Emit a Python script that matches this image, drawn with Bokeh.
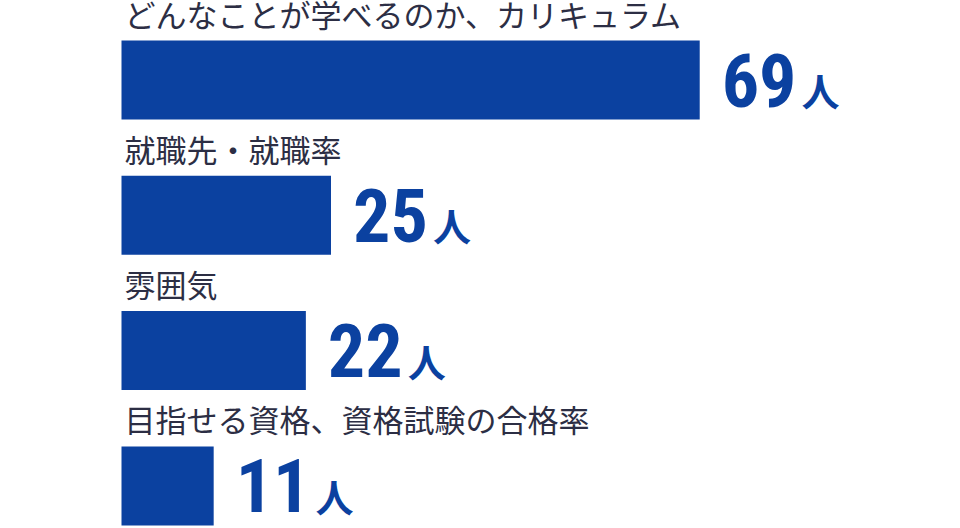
from bokeh.plotting import figure
from bokeh.models import Range1d, ColumnDataSource
from bokeh.core.properties import value
from bokeh.embed import file_html
from bokeh.resources import INLINE

# ---- data ----
categories = [
    "どんなことが学べるのか、カリキュラム",
    "就職先・就職率",
    "雰囲気",
    "目指せる資格、資格試験の合格率",
]
counts = [69, 25, 22, 11]
unit = "人"

# ---- layout constants (pixel coordinates) ----
W, H = 960, 528
bar_left_px = 121
px_per_unit = 8.38
row_start = 79.5
row_pitch = 135.3
bar_h = 79
num_size = 74
digit_adv = 0.506 * num_size

BLUE = "#0b41a0"
TEXT = "#2c2e44"

centers = [row_start + i * row_pitch for i in range(len(categories))]
src = ColumnDataSource(dict(
    cat=categories,
    val=counts,
    y=centers,
    label_y=[c - 67 for c in centers],
    num_y=[c for c in centers],
    unit_y=[c + 9.5 for c in centers],
    num=[str(v) for v in counts],
    unit=[unit] * len(counts),
    zero=[0] * len(counts),
    unit_off=[22 + len(str(v)) * digit_adv + 5 for v in counts],
))

p = figure(
    width=W, height=H,
    x_range=Range1d(-bar_left_px / px_per_unit, (W - bar_left_px) / px_per_unit),
    y_range=Range1d(H, 0),
    output_backend="svg", toolbar_location=None,
    x_axis_location=None, y_axis_location=None,
    min_border=0, outline_line_color=None,
    background_fill_color="white", border_fill_color="white",
)
p.grid.visible = False

p.hbar(y="y", left="zero", right="val", height=bar_h, source=src,
       fill_color=BLUE, line_color=None)

p.text(x="zero", y="label_y", text="cat", source=src, x_offset=3,
       text_font=value("Noto Sans CJK JP"), text_font_size="31px",
       text_color=TEXT, text_baseline="middle", text_align="left")

p.text(x="val", y="num_y", text="num", source=src, x_offset=22,
       text_font=value("Roboto Condensed, Roboto"), text_font_style="bold",
       text_font_size=f"{num_size}px", text_color=BLUE,
       text_baseline="middle", text_align="left")

p.text(x="val", y="unit_y", text="unit", source=src, x_offset="unit_off",
       text_font=value("Noto Sans CJK JP"), text_font_style="bold",
       text_font_size="38px", text_color=BLUE,
       text_baseline="middle", text_align="left")

open("out.html", "w").write(file_html(p, INLINE))
